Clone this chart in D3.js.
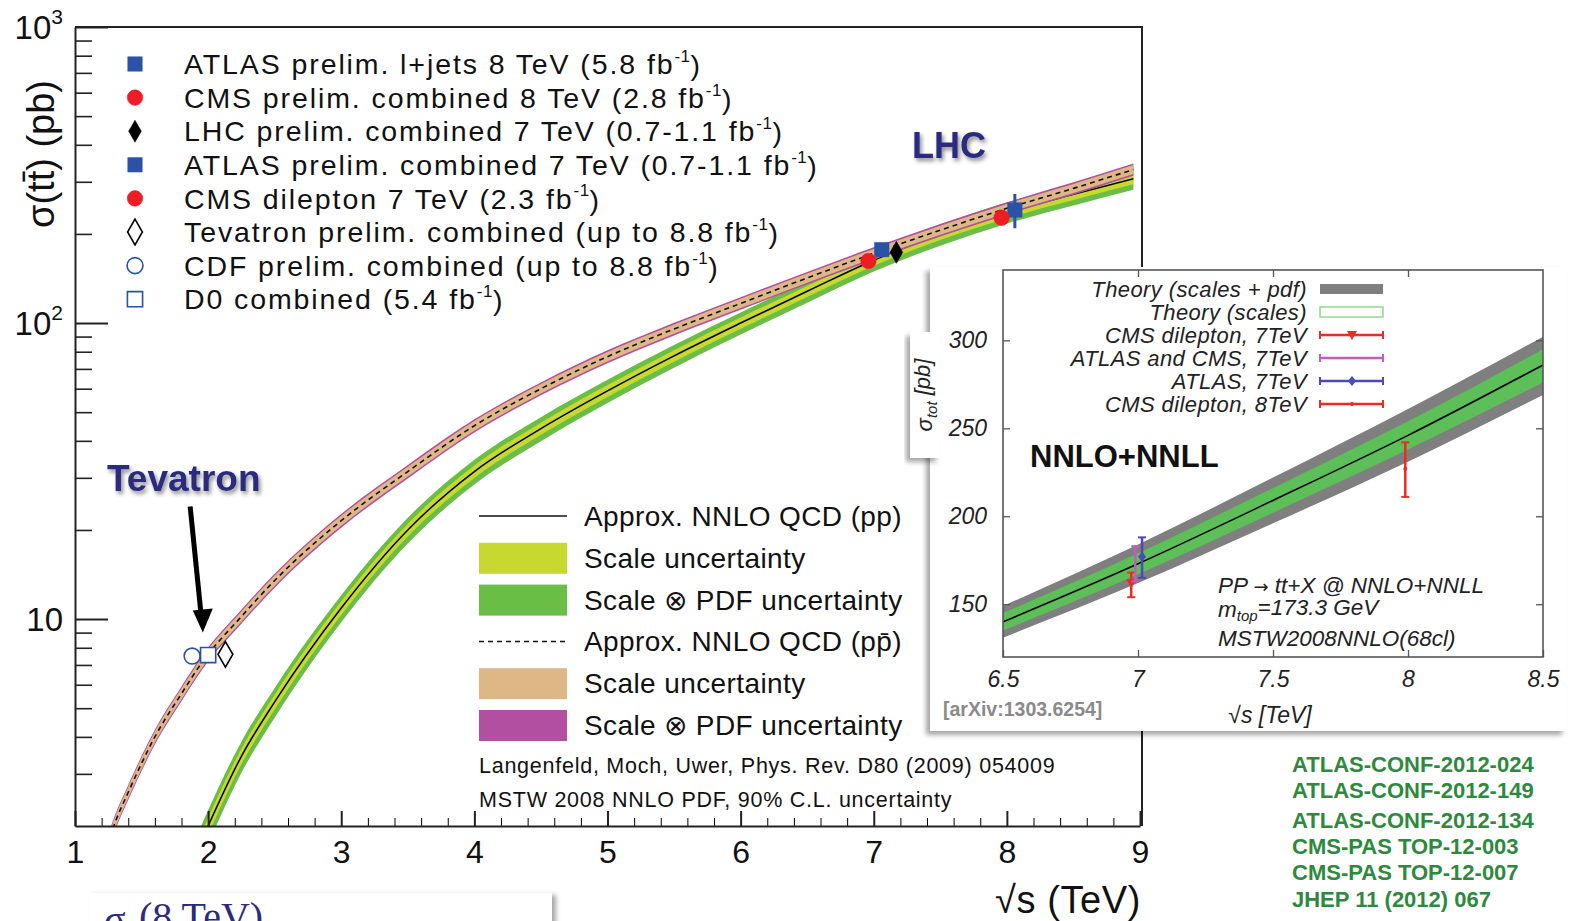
<!DOCTYPE html>
<html>
<head>
<meta charset="utf-8">
<script src="https://cdn.jsdelivr.net/npm/d3@7"></script>
<style>
  body { margin: 0; background: #fff; }
  svg { display: block; font-family: "Liberation Sans", Arial, sans-serif; }
</style>
</head>
<body>
<svg id="chart" width="1571" height="921"></svg>
<script>
// ---- theory curves (main plot) ----
var ppEnergy   = [1.9, 2.0, 2.25, 2.5, 3.0, 3.5, 4.0, 4.5, 5.0, 5.5, 6.0, 6.5, 7.0, 7.5, 8.0, 8.5, 8.95]
var ppXsec     = [1.58, 2.0, 3.44, 5.25, 10.9, 20.0, 31.5, 44, 59, 77.5, 100, 128, 163, 199, 236, 272, 307]
var ppScaleErr = [6.5, 6.5, 6, 5.8, 5.3, 5, 4.8, 4.7, 4.6, 4.5, 4.4, 4.3, 4.3, 4.2, 4.2, 4.2, 4.2]     // percent
var ppTotalErr = [13, 13, 12, 11.5, 10.5, 10, 9.6, 9.3, 9, 8.8, 8.6, 8.5, 8.4, 8.3, 8.2, 8.2, 8.2]

var ppbarEnergy   = [1.2, 1.3, 1.4, 1.6, 1.8, 1.96, 2.25, 2.5, 3.0, 3.5, 4.0, 4.5, 5.0, 5.5, 6.0, 6.5, 7.0, 7.5, 8.0, 8.5, 8.95]
var ppbarXsec     = [1.5, 2.05, 2.6, 4.0, 5.6, 7.2, 10.2, 13.5, 21.5, 31.5, 45, 60, 77, 95.5, 116.5, 142, 172, 206, 244, 285, 330]
var ppbarScaleErr = [4.5, 4.5, 4.4, 4.3, 4.2, 4.1, 4, 4, 3.9, 3.8, 3.8, 3.7, 3.7, 3.6, 3.6, 3.6, 3.5, 3.5, 3.5, 3.5, 3.5]
var ppbarTotalErr = [6, 6, 5.9, 5.8, 5.7, 5.6, 5.5, 5.4, 5.3, 5.2, 5.1, 5, 5, 4.9, 4.9, 4.8, 4.8, 4.8, 4.8, 4.8, 4.8]

// ---- measurements (main plot + legend) ----
var measLabels = [
  ["ATLAS prelim. l+jets 8 TeV (5.8 fb", "-1", ")"],
  ["CMS prelim. combined 8 TeV (2.8 fb", "-1", ")"],
  ["LHC prelim. combined 7 TeV (0.7-1.1 fb", "-1", ")"],
  ["ATLAS prelim. combined 7 TeV (0.7-1.1 fb", "-1", ")"],
  ["CMS dilepton 7 TeV (2.3 fb", "-1", ")"],
  ["Tevatron prelim. combined (up to 8.8 fb", "-1", ")"],
  ["CDF prelim. combined (up to 8.8 fb", "-1", ")"],
  ["D0 combined (5.4 fb", "-1", ")"]
]
var measEnergy = [8.06, 7.96, 7.17, 7.06, 6.96, 2.13, 1.88, 2.0]
var measXsec   = [241, 227, 173.3, 177, 161.9, 7.6, 7.5, 7.56]
var measLow    = [209, 222, 170, 173, 158, 7.4, 7.3, 7.4]
var measHigh   = [273, 232, 177, 181, 166, 7.8, 7.7, 7.7]
var measShape  = ["square", "circle", "diamond", "square", "circle", "diamond", "circle", "square"]
var measFilled = [true, true, true, true, true, false, false, false]
var measColor  = ["#2a52a6", "#ee1d23", "#000000", "#2a52a6", "#ee1d23", "#000000", "#2a52a6", "#2a52a6"]

// ---- theory legend (lower) ----
var theoryLabels = ["Approx. NNLO QCD (pp)", "Scale uncertainty", "Scale \u2297 PDF uncertainty",
                    "Approx. NNLO QCD (pp\u0304)", "Scale uncertainty", "Scale \u2297 PDF uncertainty"]
var theoryKind   = ["line", "box", "box", "dash", "box", "box"]
var theoryColor  = ["#000", "#c7d82f", "#6abd45", "#000", "#ddb886", "#b24fa0"]
var citations = ["Langenfeld, Moch, Uwer, Phys. Rev. D80 (2009) 054009",
                 "MSTW 2008 NNLO PDF, 90% C.L. uncertainty"]
var references = ["ATLAS-CONF-2012-024", "ATLAS-CONF-2012-149", "ATLAS-CONF-2012-134",
                  "CMS-PAS TOP-12-003", "CMS-PAS TOP-12-007", "JHEP 11 (2012) 067"]

// ---- inset (NNLO+NNLL) ----
var insetEnergy  = [6.5, 7.0, 7.5, 8.0, 8.5]
var insetXsec    = [140, 173, 209, 246, 286]
var insetPdfLow  = [131, 162, 196, 231, 269]
var insetPdfHigh = [149, 184, 222, 261, 302]
var insetScaleLow  = [135, 167, 202, 238, 276]
var insetScaleHigh = [145, 179, 216, 254, 295]

var insetMeasLabels = ["CMS dilepton, 7TeV", "ATLAS and CMS, 7TeV", "ATLAS, 7TeV", "CMS dilepton, 8TeV"]
var insetMeasEnergy = [6.975, 6.99, 7.015, 7.99]
var insetMeasXsec   = [161.9, 173, 177, 227]
var insetMeasLow    = [154, 163, 165, 211]
var insetMeasHigh   = [168, 183, 188, 242]
var insetMeasColor  = ["#ee2a24", "#c25cc4", "#4a4ab8", "#ee2a24"]
var insetMeasMark   = ["triangle", "none", "diamond", "dot"]

var xTicks = [1, 2, 3, 4, 5, 6, 7, 8, 9]
var yTicks = [10, 100, 1000]
var insetXTicks = [6.5, 7, 7.5, 8, 8.5]
var insetYTicks = [150, 200, 250, 300]

var svg = d3.select("#chart")
var defs = svg.append("defs")

defs.append("clipPath").attr("id", "plotClip")
  .append("rect").attr("x", 75).attr("y", 27).attr("width", 1067).attr("height", 799)
defs.append("clipPath").attr("id", "insetClip")
  .append("rect").attr("x", 1003).attr("y", 270).attr("width", 540).attr("height", 387)

function shadow(id, dx, dy, sd, op) {
  defs.append("filter").attr("id", id).attr("x", "-20%").attr("y", "-20%").attr("width", "140%").attr("height", "140%")
    .append("feDropShadow").attr("dx", dx).attr("dy", dy).attr("stdDeviation", sd)
    .attr("flood-color", "#000").attr("flood-opacity", op)
}
shadow("panelShadow", -4, 4, 2.5, 0.35)
shadow("boxShadow", 4, 2, 2.5, 0.35)
shadow("textShadow", 2, 3, 2, 0.45)

// ---------------- main plot ----------------
var x = d3.scaleLinear().domain([1, 9]).range([75, 1140])
var y = d3.scaleLog().domain([2, 1000]).range([826, 27])

var ppData = ppEnergy.map(function(e, i) {
  return {e: e, v: ppXsec[i], s: ppScaleErr[i] / 100, t: ppTotalErr[i] / 100}
})
var ppbarData = ppbarEnergy.map(function(e, i) {
  return {e: e, v: ppbarXsec[i], s: ppbarScaleErr[i] / 100, t: ppbarTotalErr[i] / 100}
})

function band(key) {
  return d3.area().curve(d3.curveMonotoneX)
    .x(function(d) { return x(d.e) })
    .y0(function(d) { return y(d.v * (1 - d[key])) })
    .y1(function(d) { return y(d.v * (1 + d[key])) })
}
var centre = d3.line().curve(d3.curveMonotoneX)
  .x(function(d) { return x(d.e) })
  .y(function(d) { return y(d.v) })

var plot = svg.append("g").attr("clip-path", "url(#plotClip)")

plot.append("path").datum(ppData).attr("d", band("t")).attr("fill", theoryColor[2])
plot.append("path").datum(ppData).attr("d", band("s")).attr("fill", theoryColor[1])
plot.append("path").datum(ppData).attr("d", centre).attr("fill", "none").attr("stroke", "#000").attr("stroke-width", 1.5)

plot.append("path").datum(ppbarData).attr("d", band("t")).attr("fill", theoryColor[5])
plot.append("path").datum(ppbarData).attr("d", band("s")).attr("fill", theoryColor[4])
plot.append("path").datum(ppbarData).attr("d", centre).attr("fill", "none").attr("stroke", "#111")
  .attr("stroke-width", 1.6).attr("stroke-dasharray", "5,4")

// axes (ticks point inwards)
var xMinor = d3.range(1, 9.001, 0.2).filter(function(v) { return Math.abs(v - Math.round(v)) > 0.01 })
svg.append("g").attr("transform", "translate(0,826)")
  .call(d3.axisBottom(x).tickValues(xMinor).tickSizeInner(-8).tickSizeOuter(0).tickFormat(""))
  .call(function(g) { g.select(".domain").remove() })
var xAxis = svg.append("g").attr("transform", "translate(0,826)")
  .call(d3.axisBottom(x).tickValues(xTicks).tickSizeInner(-15).tickSizeOuter(0).tickPadding(14).tickFormat(d3.format("d")))
xAxis.selectAll("text").attr("font-size", 32).attr("fill", "#111").attr("font-family", "Liberation Sans, Arial, sans-serif")
xAxis.selectAll("line, path").attr("stroke", "#222").attr("stroke-width", 2)

var yMinor = []
;[1, 10, 100].forEach(function(dec) { d3.range(2, 10).forEach(function(m) { if (m * dec > 2) yMinor.push(m * dec) }) })
svg.append("g").attr("transform", "translate(75,0)")
  .call(d3.axisLeft(y).tickValues(yMinor).tickSizeInner(-17).tickSizeOuter(0).tickFormat(""))
  .call(function(g) { g.select(".domain").remove() })
  .selectAll("line").attr("stroke", "#222").attr("stroke-width", 1.6)
var yAxis = svg.append("g").attr("transform", "translate(75,0)")
  .call(d3.axisLeft(y).tickValues(yTicks).tickSizeInner(-33).tickSizeOuter(0).tickFormat(""))
yAxis.selectAll("line, path").attr("stroke", "#222").attr("stroke-width", 2)

yAxis.selectAll(".tick").append("text")
  .attr("x", -12).attr("dy", "0.36em").attr("text-anchor", "end")
  .attr("fill", "#111").attr("font-size", 33)
  .each(function(d) {
    var t = d3.select(this), p = Math.round(Math.log10(d))
    t.append("tspan").text("10")
    if (p > 1) t.append("tspan").attr("font-size", 21).attr("dy", "-0.75em").text(p)
  })
yAxis.selectAll(".tick").filter(function(d) { return d == 1000 }).select("text").attr("y", 4)

// frame: top and right edges
svg.append("path").attr("d", "M75,27H1142V826").attr("fill", "none").attr("stroke", "#222").attr("stroke-width", 2)

// axis titles
svg.append("text").attr("transform", "translate(54,154) rotate(-90)").attr("text-anchor", "middle")
  .attr("font-size", 38).attr("fill", "#111").text("\u03c3(tt\u0304) (pb)")
svg.append("text").attr("x", 1141).attr("y", 913).attr("text-anchor", "end")
  .attr("font-size", 38).attr("letter-spacing", 0.6).attr("fill", "#111").text("\u221as (TeV)")

// measurements
function drawMarker(sel, shape, filled, color, size) {
  var sym = shape == "square" ? d3.symbolSquare : shape == "circle" ? d3.symbolCircle : d3.symbolDiamond
  sel.append("path")
    .attr("d", d3.symbol().type(sym).size(size)())
    .attr("fill", filled ? color : "#fff")
    .attr("stroke", color).attr("stroke-width", filled ? 0.5 : 1.6)
}
var measSize = {square: 210, circle: 190, diamond: 140}
function markerSize(i) {
  if (measFilled[i]) return measSize[measShape[i]]
  return measShape[i] == "diamond" ? 190 : measShape[i] == "circle" ? 200 : 230
}

var meas = svg.append("g").selectAll("g").data(measEnergy).enter().append("g")
  .attr("transform", function(d, i) { return "translate(" + x(d) + "," + y(measXsec[i]) + ")" })
meas.append("line")
  .attr("y1", function(d, i) { return y(measLow[i]) - y(measXsec[i]) })
  .attr("y2", function(d, i) { return y(measHigh[i]) - y(measXsec[i]) })
  .attr("stroke", function(d, i) { return measColor[i] }).attr("stroke-width", 3)
meas.each(function(d, i) {
  drawMarker(d3.select(this), measShape[i], measFilled[i], measColor[i], markerSize(i))
})

// upper legend
var legTop = svg.append("g").selectAll("g").data(measLabels).enter().append("g")
  .attr("transform", function(d, i) { return "translate(135," + (64 + i * 33.6) + ")" })
legTop.each(function(d, i) {
  drawMarker(d3.select(this), measShape[i], measFilled[i], measColor[i], markerSize(i))
})
legTop.append("text").attr("x", 49).attr("dy", "0.36em").attr("font-size", 28.5)
  .attr("letter-spacing", 1.9).attr("fill", "#111")
  .each(function(d) {
    var t = d3.select(this)
    t.append("tspan").text(d[0])
    t.append("tspan").attr("font-size", 17).attr("letter-spacing", 0.5).attr("dy", "-0.72em").text(d[1])
    t.append("tspan").attr("dy", "0.46em").text(d[2])
  })

// lower (theory) legend
var legLow = svg.append("g").selectAll("g").data(theoryLabels).enter().append("g")
  .attr("transform", function(d, i) { return "translate(479," + (516 + i * 41.8) + ")" })
legLow.each(function(d, i) {
  var g = d3.select(this)
  if (theoryKind[i] == "box") {
    g.append("rect").attr("y", -15).attr("width", 88).attr("height", 31).attr("fill", theoryColor[i])
  } else {
    g.append("line").attr("x2", 88).attr("stroke", "#111").attr("stroke-width", 1.5)
      .attr("stroke-dasharray", theoryKind[i] == "dash" ? "5,4" : null)
  }
})
legLow.append("text").attr("x", 105).attr("dy", "0.36em").attr("font-size", 28)
  .attr("letter-spacing", 0.4).attr("fill", "#111")
  .text(function(d) { return d })

svg.append("g").selectAll("text").data(citations).enter().append("text")
  .attr("x", 479).attr("y", function(d, i) { return 765 + i * 34 }).attr("dy", "0.36em")
  .attr("font-size", 21.5).attr("letter-spacing", 0.75).attr("fill", "#111").text(function(d) { return d })

// annotations
svg.append("text").attr("x", 107).attr("y", 491).attr("font-size", 37).attr("font-weight", "bold")
  .attr("fill", "#2b2b7e").attr("filter", "url(#textShadow)").text("Tevatron")
svg.append("text").attr("x", 912).attr("y", 158).attr("font-size", 36).attr("font-weight", "bold")
  .attr("fill", "#2b2b7e").attr("filter", "url(#textShadow)").text("LHC")

var arrowFrom = [1.865, 24], arrowTo = [1.96, 9.0]
svg.append("line")
  .attr("x1", x(arrowFrom[0])).attr("y1", y(arrowFrom[1]))
  .attr("x2", x(arrowTo[0]) - 1.5).attr("y2", y(arrowTo[1]) - 16)
  .attr("stroke", "#000").attr("stroke-width", 5)
var ax = x(arrowTo[0]), ay = y(arrowTo[1])
svg.append("path").attr("d", "M" + ax + "," + ay + "l-10,-22l20,-2z").attr("fill", "#000")

// ---------------- inset ----------------
var inset = svg.append("g")
inset.append("rect").attr("x", 930).attr("y", 267).attr("width", 636).attr("height", 464)
  .attr("fill", "#fff").attr("filter", "url(#panelShadow)")

var ix = d3.scaleLinear().domain([6.5, 8.5]).range([1003, 1543])
var iy = d3.scaleLinear().domain([120, 340]).range([657, 270])

var insetData = insetEnergy.map(function(e, i) {
  return {e: e, v: insetXsec[i], pl: insetPdfLow[i], ph: insetPdfHigh[i], sl: insetScaleLow[i], sh: insetScaleHigh[i]}
})
var ig = inset.append("g").attr("clip-path", "url(#insetClip)")
ig.append("path").datum(insetData).attr("fill", "#7f7f7f")
  .attr("d", d3.area().curve(d3.curveNatural).x(function(d) { return ix(d.e) })
    .y0(function(d) { return iy(d.pl) }).y1(function(d) { return iy(d.ph) }))
ig.append("path").datum(insetData).attr("fill", "#5cbf58")
  .attr("d", d3.area().curve(d3.curveNatural).x(function(d) { return ix(d.e) })
    .y0(function(d) { return iy(d.sl) }).y1(function(d) { return iy(d.sh) }))
ig.append("path").datum(insetData).attr("fill", "none").attr("stroke", "#000").attr("stroke-width", 1.6)
  .attr("d", d3.line().curve(d3.curveNatural).x(function(d) { return ix(d.e) }).y(function(d) { return iy(d.v) }))

function errMarker(g, kind, color) {
  if (kind == "triangle") g.append("path").attr("d", "M-5,-4L5,-4L0,5Z").attr("fill", color)
  else if (kind == "diamond") g.append("path").attr("d", "M0,-5L4,0L0,5L-4,0Z").attr("fill", color)
  else if (kind == "dot") g.append("circle").attr("r", 2).attr("fill", color)
}
var im = inset.append("g").selectAll("g").data(insetMeasEnergy).enter().append("g")
  .attr("transform", function(d) { return "translate(" + ix(d) + ",0)" })
im.each(function(d, i) {
  var g = d3.select(this), c = insetMeasColor[i]
  g.append("line").attr("y1", iy(insetMeasLow[i])).attr("y2", iy(insetMeasHigh[i])).attr("stroke", c).attr("stroke-width", 2.5)
  ;[insetMeasLow[i], insetMeasHigh[i]].forEach(function(v) {
    g.append("line").attr("x1", -4).attr("x2", 4).attr("y1", iy(v)).attr("y2", iy(v)).attr("stroke", c).attr("stroke-width", 2)
  })
  errMarker(g.append("g").attr("transform", "translate(0," + iy(insetMeasXsec[i]) + ")"), insetMeasMark[i], c)
})

// inset frame and ticks (inward on all sides)
inset.append("rect").attr("x", 1003).attr("y", 270).attr("width", 540).attr("height", 387)
  .attr("fill", "none").attr("stroke", "#555").attr("stroke-width", 1.6)
function insetTicks(axis, tr) {
  var g = inset.append("g").attr("transform", tr).call(axis)
  g.select(".domain").remove()
  g.selectAll("line").attr("stroke", "#555").attr("stroke-width", 1.3)
  return g
}
insetTicks(d3.axisBottom(ix).tickValues(insetXTicks).tickSizeInner(-7).tickPadding(14).tickFormat(d3.format("")), "translate(0,657)")
insetTicks(d3.axisTop(ix).tickValues(insetXTicks.slice(1, 4)).tickSizeInner(-7).tickFormat(""), "translate(0,270)")
insetTicks(d3.axisLeft(iy).tickValues(insetYTicks).tickSizeInner(-7).tickPadding(16), "translate(1003,0)")
insetTicks(d3.axisRight(iy).tickValues(insetYTicks).tickSizeInner(-7).tickFormat(""), "translate(1543,0)")
inset.selectAll(".tick text").attr("font-size", 23).attr("font-style", "italic").attr("fill", "#222")
  .attr("font-family", "Liberation Sans, Arial, sans-serif")

// inset y label box
inset.append("rect").attr("x", 910).attr("y", 332).attr("width", 30).attr("height", 126)
  .attr("fill", "#fff").attr("filter", "url(#panelShadow)")
var ylab = inset.append("text").attr("transform", "translate(932,395) rotate(-90)").attr("text-anchor", "middle")
  .attr("font-size", 22).attr("font-style", "italic").attr("fill", "#222")
ylab.append("tspan").text("\u03c3")
ylab.append("tspan").attr("font-size", 15).attr("dy", "0.3em").text("tot")
ylab.append("tspan").attr("dy", "-0.3em").text(" [pb]")

inset.append("text").attr("x", 1270).attr("y", 723).attr("text-anchor", "middle").attr("font-size", 23)
  .attr("font-style", "italic").attr("fill", "#222").text("\u221as [TeV]")
inset.append("text").attr("x", 943).attr("y", 716).attr("font-size", 19.5).attr("font-weight", "bold")
  .attr("fill", "#8a8a8a").text("[arXiv:1303.6254]")
inset.append("text").attr("x", 1030).attr("y", 467).attr("font-size", 31).attr("font-weight", "bold")
  .attr("fill", "#111").text("NNLO+NNLL")

var note = inset.append("g").attr("font-size", 22.5).attr("font-style", "italic").attr("fill", "#222")
var pp = note.append("text").attr("x", 1218).attr("y", 593)
pp.append("tspan").text("PP ")
pp.append("tspan").attr("font-family", "DejaVu Sans, sans-serif").attr("font-style", "normal").attr("font-size", 18).text("\u2192")
pp.append("tspan").text(" tt+X @ NNLO+NNLL")
var mt = note.append("text").attr("x", 1218).attr("y", 617)
mt.append("tspan").text("m")
mt.append("tspan").attr("font-size", 15).attr("dy", "0.28em").text("top")
mt.append("tspan").attr("dy", "-0.28em").text("=173.3 GeV")
note.append("text").attr("x", 1218).attr("y", 646).text("MSTW2008NNLO(68cl)")

// inset legend
var iLegLabels = ["Theory (scales + pdf)", "Theory (scales)"].concat(insetMeasLabels)
var iLeg = inset.append("g").selectAll("g").data(iLegLabels).enter().append("g")
  .attr("transform", function(d, i) { return "translate(0," + (289 + i * 23) + ")" })
iLeg.append("text").attr("x", 1307).attr("dy", "0.36em").attr("text-anchor", "end")
  .attr("font-size", 22).attr("letter-spacing", 0.4).attr("font-style", "italic").attr("fill", "#222")
  .text(function(d) { return d })
iLeg.each(function(d, i) {
  var g = d3.select(this)
  if (i == 0) g.append("rect").attr("x", 1320).attr("y", -5).attr("width", 63).attr("height", 10).attr("fill", "#7f7f7f")
  else if (i == 1) g.append("rect").attr("x", 1320).attr("y", -5).attr("width", 63).attr("height", 10)
    .attr("fill", "#fff").attr("stroke", "#8fda8c").attr("stroke-width", 1.5)
  else {
    var c = insetMeasColor[i - 2]
    g.append("line").attr("x1", 1320).attr("x2", 1383).attr("stroke", c).attr("stroke-width", 2.5)
    ;[1320, 1383].forEach(function(px) {
      g.append("line").attr("x1", px).attr("x2", px).attr("y1", -4).attr("y2", 4).attr("stroke", c).attr("stroke-width", 2)
    })
    errMarker(g.append("g").attr("transform", "translate(1352,0)"), insetMeasMark[i - 2], c)
  }
})

// ---------------- references and cut-off box ----------------
svg.append("g").selectAll("text").data(references).enter().append("text")
  .attr("x", 1292).attr("y", function(d, i) { return [764, 790, 820, 846, 872, 899][i] }).attr("dy", "0.36em")
  .attr("font-size", 22).attr("font-weight", "bold").attr("fill", "#2d8a3d").text(function(d) { return d })

svg.append("rect").attr("x", 90).attr("y", 893).attr("width", 462).attr("height", 60)
  .attr("fill", "#fff").attr("filter", "url(#boxShadow)")
var cut = svg.append("text").attr("x", 104).attr("y", 933).attr("font-family", "Liberation Serif, Times New Roman, serif")
  .attr("font-size", 40).attr("fill", "#2b2b7e")
cut.append("tspan").text("\u03c3")
cut.append("tspan").attr("font-size", 24).attr("dy", "0.2em").text("tt\u0304")
cut.append("tspan").attr("dy", "-0.2em").text("(8 TeV)")
</script>
</body>
</html>
